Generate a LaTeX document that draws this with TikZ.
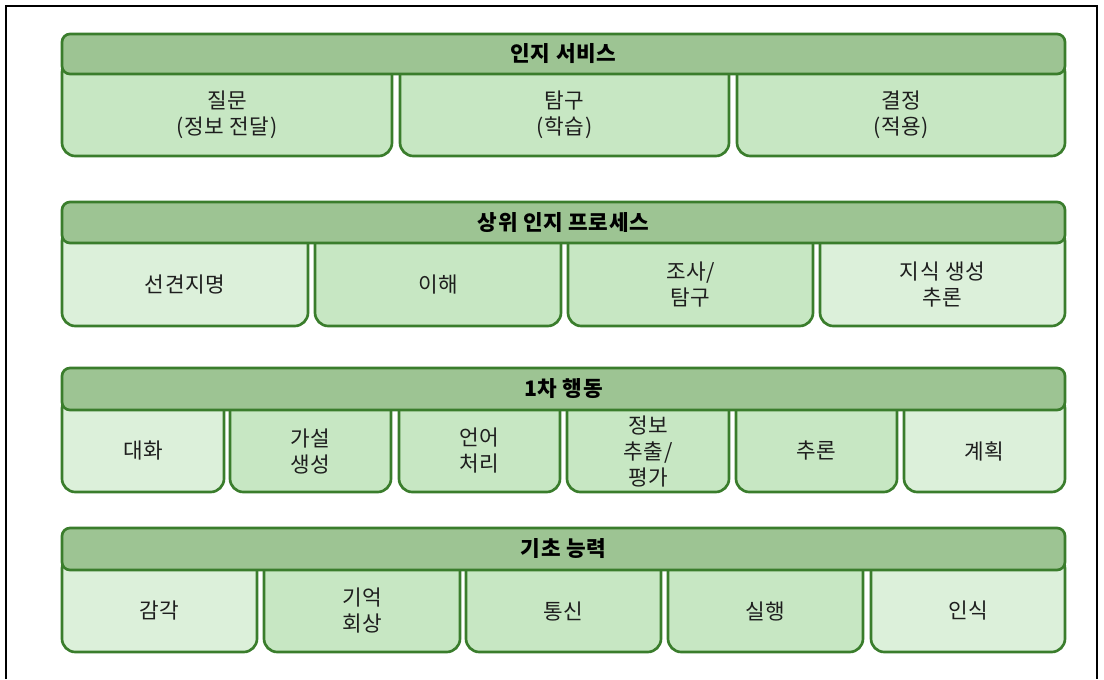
\documentclass[tikz,border=0pt]{standalone}
\usepackage{fontspec}
\setmainfont{Noto Sans CJK KR}[LetterSpace=3]
\definecolor{gstroke}{HTML}{3A7D2C}
\definecolor{ghead}{HTML}{9DC493}
\definecolor{gmid}{HTML}{C7E7C3}
\definecolor{glight}{HTML}{DCF0DA}
\definecolor{txt}{HTML}{1E1E1E}
\newcommand\cellbox[7]{%
  \path[cellbase,#6] (#2,#4-15) rectangle (#3,#5);
  \node[lbl] (#1) at ({(#2+#3)/2},{(#4+#5)/2}) {#7};}
\begin{document}
\begin{tikzpicture}[x=0.75pt,y=-0.75pt,
  hdr/.style={draw=gstroke, fill=ghead, line width=2pt, rounded corners=6pt},
  cellbase/.style={draw=gstroke, line width=2pt, rounded corners=10pt},
  filllight/.style={fill=glight},
  fillmid/.style={fill=gmid},
  lbl/.style={align=center, font=\fontsize{16}{19.5}\selectfont, text=txt, inner sep=0pt},
  hlbl/.style={font=\fontsize{16}{19.5}\selectfont\bfseries, text=black, inner sep=0pt}]
\useasboundingbox (0,0) rectangle (1104,679);
\draw[line width=1pt] (6,679) -- (6,6) -- (1097,6) -- (1097,679);

% Row 1
\cellbox{q}{62}{392}{74}{156}{fillmid}{질문\\(정보 전달)}
\cellbox{e}{400}{729}{74}{156}{fillmid}{탐구\\(학습)}
\cellbox{d}{737}{1065}{74}{156}{fillmid}{결정\\(적용)}
\path[hdr] (62,34) rectangle (1065,74);
\node[hlbl] (h1) at (563.5,54) {인지 서비스};

% Row 2
\cellbox{f}{62}{308}{243}{326}{filllight}{선견지명}
\cellbox{u}{315}{561}{243}{326}{fillmid}{이해}
\cellbox{i}{568}{813}{243}{326}{fillmid}{조사/\\탐구}
\cellbox{k}{820}{1065}{243}{326}{filllight}{지식 생성\\추론}
\path[hdr] (62,202) rectangle (1065,243);
\node[hlbl] (h2) at (563.5,222.5) {상위 인지 프로세스};

% Row 3
\cellbox{c}{62}{224}{410}{492}{filllight}{대화}
\cellbox{hy}{230}{391}{410}{492}{fillmid}{가설\\생성}
\cellbox{l}{399}{560}{410}{492}{fillmid}{언어\\처리}
\cellbox{x}{567}{729}{410}{492}{fillmid}{정보\\추출/\\평가}
\cellbox{r}{736}{897}{410}{492}{fillmid}{추론}
\cellbox{p}{904}{1065}{410}{492}{filllight}{계획}
\path[hdr] (62,368) rectangle (1065,410);
\node[hlbl] (h3) at (563.5,389) {1차 행동};

% Row 4
\cellbox{s}{62}{257}{570}{652}{filllight}{감각}
\cellbox{m}{264}{460}{570}{652}{fillmid}{기억\\회상}
\cellbox{t}{466}{661}{570}{652}{fillmid}{통신}
\cellbox{a}{668}{863}{570}{652}{fillmid}{실행}
\cellbox{rc}{871}{1065}{570}{652}{filllight}{인식}
\path[hdr] (62,528) rectangle (1065,570);
\node[hlbl] (h4) at (563.5,549) {기초 능력};
\end{tikzpicture}
\end{document}
